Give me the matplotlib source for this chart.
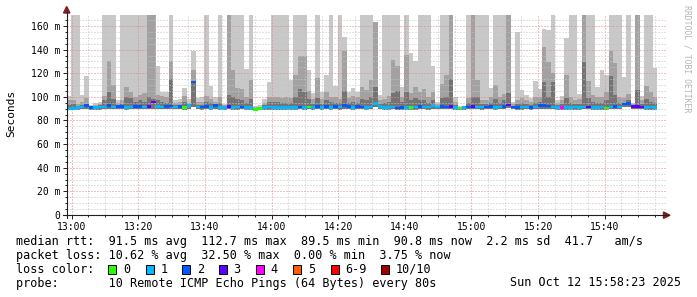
import numpy as np
import matplotlib
matplotlib.use("Agg")
import matplotlib.pyplot as plt
from matplotlib.lines import Line2D
from matplotlib.patches import Polygon, Rectangle

# ---------------- data ----------------
step_min = 80 / 60.0          # 80 s between samples
start_min = -1.5              # first sample, minutes relative to 13:00

top = [101, 175, 175, 101.7, 117.7, 93.5, 95, 96, 175, 175, 175, 97, 175, 175, 175, 175, 175, 175, 175, 175,
       126, 104.5, 104, 175, 97, 98, 107.5, 98, 139, 99, 99.5, 175, 109, 99.8, 175, 94, 175, 175, 175, 175,
       123.5, 175, 92, 93, 98, 113, 175, 175, 175, 175, 114.3, 175, 175, 175, 123, 103, 175, 104.5, 118.6, 175,
       109.2, 175, 151, 104.5, 107.3, 104.5, 175, 175, 175, 163, 101.7, 175, 175, 175, 175, 108.7, 175, 137.4, 130.3, 175,
       175, 175, 126, 95.3, 175, 175, 175, 99.8, 92.5, 91, 175, 175, 175, 175, 175, 107.3, 175, 175, 175, 175,
       96, 155, 106, 101.7, 99, 113.8, 106.5, 157.5, 156.6, 175, 97.5, 100.9, 150, 175, 175, 102.6, 175, 175, 175, 108.2,
       122.8, 118.6, 175, 175, 175, 116.6, 175, 95, 175, 101, 175, 175, 124.5]

mid = [97, 97.5, 94, 96, 99, 92.5, 93, 94, 101, 130.3, 110, 95, 97.5, 108, 104, 100, 102, 103, 175, 175,
       102, 101, 100, 130.3, 95, 96, 101, 95, 122.8, 96, 96, 101, 98, 96, 100, 93, 175, 122.8, 107.3, 106.5,
       100, 114.3, 91, 91.5, 95, 100, 100, 100.3, 99, 99.8, 99, 118.6, 134.6, 134.6, 105, 98, 115.8, 98, 104, 100,
       100, 98, 139, 99, 101, 100, 108.7, 105.9, 114.3, 163, 97, 98, 101, 131.2, 126, 100, 135.4, 103, 108.2, 104.5,
       106.5, 99.8, 104, 94, 111, 118.6, 175, 96, 91.5, 90.5, 98.9, 175, 114.3, 97.5, 97.5, 100, 110, 99.8, 102.6, 175,
       94, 97.5, 99, 97, 96, 99.8, 100, 142, 129.8, 120, 95, 97, 118.6, 99.8, 97.5, 98, 175, 113.8, 101.7, 100,
       99.8, 104, 139, 129, 99.8, 99, 102.6, 94, 175, 97, 109.2, 103.7, 99.8]

inner = [93, 94, 92, 93, 94, 92, 92, 93, 97, 104.5, 98, 93, 94, 100, 99, 96, 97, 96, 100, 98,
         97, 96, 95, 115, 93, 93, 96, 93, 113, 93, 93, 96, 95, 93, 95, 92, 102, 100, 98, 97,
         95, 98, 90, 90.5, 93, 96, 96, 96, 95, 95, 95, 100, 107, 104, 98, 94, 99, 94, 97, 96,
         95, 95, 105, 95, 96, 95, 98, 97, 100, 108.7, 94, 95, 96, 103, 105, 96, 104, 97, 99, 97,
         97, 95, 97, 92.5, 99, 100, 115.3, 93, 91, 90, 95, 100, 100, 94, 94, 95, 98, 95, 97, 103,
         92.5, 94, 95, 94, 93, 95, 96, 113, 100, 113, 93, 94, 99, 95, 94, 94, 129.8, 99, 96, 95,
         95, 97, 118, 102, 95, 95, 97, 92.5, 105.9, 94, 98, 96, 95]

low = [88.8, 88.5, 89.0, 89.5, 90.0, 89.2, 89.0, 89.3, 89.5, 89.8, 89.5, 89.6, 89.8, 89.2, 89.5, 89.6, 89.8, 89.5, 89.8, 90.0,
       89.8, 89.5, 89.8, 90.0, 89.5, 89.8, 89.0, 90.0, 91.0, 89.5, 89.3, 89.8, 89.0, 90.0, 89.0, 89.0, 89.6, 89.0, 89.3, 89.5,
       89.0, 89.0, 88.2, 88.6, 89.0, 89.3, 89.0, 88.8, 89.0, 88.8, 89.0, 89.2, 89.5, 89.0, 89.5, 89.0, 89.6, 89.2, 89.8, 89.0,
       89.8, 89.3, 90.0, 89.8, 89.0, 89.8, 89.5, 89.0, 89.5, 91.0, 89.8, 89.0, 89.0, 89.5, 88.5, 88.8, 89.2, 88.8, 89.3, 89.8,
       89.5, 89.3, 90.0, 89.5, 89.6, 89.5, 89.8, 89.0, 88.8, 88.9, 89.5, 89.8, 89.5, 89.3, 89.5, 89.6, 89.2, 89.5, 89.8, 90.5,
       89.5, 89.0, 89.3, 89.5, 89.0, 89.5, 90.0, 90.0, 90.0, 89.5, 89.0, 89.0, 89.2, 89.0, 89.3, 89.0, 89.5, 89.5, 89.2, 89.0,
       89.3, 88.8, 89.5, 89.8, 89.5, 91.0, 91.5, 89.8, 89.8, 89.5, 89.0, 89.3, 88.9]

median = [90.5, 90.3, 90.8, 91.5, 92.5, 91.2, 91.0, 91.3, 91.5, 92.5, 91.5, 91.8, 92.0, 91.2, 91.5, 91.8, 92.0, 91.5, 92.0, 95.5,
          92.0, 91.5, 92.0, 92.2, 91.5, 92.0, 91.0, 92.5, 112.7, 91.5, 91.3, 92.0, 91.0, 92.5, 91.0, 91.0, 91.8, 91.0, 91.3, 91.5,
          91.0, 91.0, 89.5, 90.2, 91.0, 91.3, 91.0, 90.8, 91.0, 90.8, 91.0, 91.2, 91.5, 91.0, 91.5, 91.0, 91.8, 91.2, 92.0, 91.0,
          92.0, 91.3, 92.5, 92.0, 91.0, 92.0, 91.5, 91.0, 91.5, 94.5, 92.0, 91.0, 91.0, 91.5, 90.5, 90.8, 91.2, 90.8, 91.3, 92.0,
          91.5, 91.3, 92.5, 91.5, 91.8, 91.5, 92.0, 91.0, 90.5, 90.8, 91.5, 92.0, 91.5, 91.3, 91.5, 91.8, 91.2, 91.5, 92.0, 93.0,
          91.5, 91.0, 91.3, 91.5, 91.0, 91.5, 92.5, 92.5, 92.3, 91.5, 91.0, 91.0, 91.2, 91.0, 91.3, 91.0, 91.5, 91.5, 91.2, 91.0,
          91.3, 90.5, 91.5, 92.0, 91.5, 94.0, 94.5, 92.0, 92.0, 91.5, 91.0, 91.3, 90.8]

loss = [1, 1, 1, 1, 2, 2, 1, 1, 1, 2, 1, 2, 2, 1, 1, 2, 2, 1, 3, 3,
        1, 1, 2, 2, 1, 2, 0, 1, 2, 1, 2, 2, 1, 2, 1, 1, 3, 1, 1, 2,
        1, 1, 0, 0, 1, 1, 1, 1, 1, 1, 1, 1, 2, 1, 0, 1, 2, 1, 2, 1,
        2, 1, 2, 2, 1, 2, 2, 1, 1, 1, 1, 1, 1, 1, 2, 2, 1, 0, 1, 2,
        1, 1, 1, 1, 2, 2, 3, 1, 0, 1, 2, 3, 1, 1, 2, 2, 1, 1, 2, 3,
        2, 2, 1, 1, 2, 1, 2, 2, 2, 1, 1, 4, 1, 1, 1, 1, 1, 3, 1, 1,
        1, 0, 1, 2, 1, 2, 2, 3, 3, 3, 1, 1, 1]

loss_labels = ["0", "1", "2", "3", "4", "5", "6-9", "10/10"]
loss_colors = ["#26ff00", "#00b8ff", "#0059ff", "#5e00ff", "#ff00ff", "#ff5e00", "#ff0000", "#a10000"]

x_tick_labels = ["13:00", "13:20", "13:40", "14:00", "14:20", "14:40", "15:00", "15:20", "15:40"]
y_tick_labels = ["0", "20 m", "40 m", "60 m", "80 m", "100 m", "120 m", "140 m", "160 m"]

line_rtt = "median rtt:  91.5 ms avg  112.7 ms max  89.5 ms min  90.8 ms now  2.2 ms sd  41.7   am/s"
line_loss = "packet loss: 10.62 % avg  32.50 % max  0.00 % min  3.75 % now"
line_probe = "probe:       10 Remote ICMP Echo Pings (64 Bytes) every 80s"
stamp = "Sun Oct 12 15:58:23 2025"

# ---------------- figure ----------------
W, H = 697, 297
fig = plt.figure(figsize=(W / 100, H / 100), dpi=100)
fig.patch.set_facecolor("white")
MONO = "DejaVu Sans Mono"


def fx(x):
    return x / W


def fy(y):
    return 1 - y / H


ax_l, ax_r, ax_t, ax_b = 66.7, 666.0, 15.0, 215.0
ax = fig.add_axes([fx(ax_l), fy(ax_b), (ax_r - ax_l) / W, (ax_b - ax_t) / H])
ax.set_facecolor("white")

n = len(median)
xs = start_min + step_min * np.arange(n)
low_a = np.array(low)
ax.bar(xs, np.array(top) - low_a, bottom=low_a, width=step_min, align="edge", color="#c8c8c8", linewidth=0, zorder=1)
ax.bar(xs, np.array(mid) - low_a, bottom=low_a, width=step_min, align="edge", color="#a2a2a2", linewidth=0, zorder=1.1)
ax.bar(xs, np.array(inner) - low_a, bottom=low_a, width=step_min, align="edge", color="#747474", linewidth=0, zorder=1.2)


def loss_color(k):
    if k >= 10:
        return loss_colors[7]
    if k >= 6:
        return loss_colors[6]
    return loss_colors[k]


med_a = np.array(median)
ax.bar(xs, 2.2, bottom=med_a - 1.1, width=step_min, align="edge",
       color=[loss_color(k) for k in loss], linewidth=0, zorder=3)

ax.set_xlim(-1.5, 178.4)
ax.set_ylim(0, 169.3)

ax.set_xticks(np.arange(0, 161, 20))
ax.set_xticklabels(x_tick_labels, fontfamily=MONO, fontsize=7)
ax.set_xticks(np.arange(0, 178, 5), minor=True)
ax.set_yticks(np.arange(0, 161, 20))
ax.set_yticklabels(y_tick_labels, fontfamily=MONO, fontsize=7)
ax.set_yticks(np.arange(0, 169, 5), minor=True)

ax.grid(which="minor", color="#c4c4c4", linestyle=(0, (1, 2)), linewidth=0.72, zorder=2)
ax.grid(which="major", color="#e08888", linestyle=(0, (1, 2)), linewidth=0.72, zorder=2.1)
ax.set_axisbelow(False)

for s in ax.spines.values():
    s.set_visible(False)
ax.tick_params(axis="both", which="major", length=3, width=0.7, color="#1f1f1f", pad=1.5)
ax.tick_params(axis="both", which="minor", length=1.5, width=0.7, color="#1f1f1f")
ax.tick_params(axis="x", pad=2)

# axis lines and arrows (rrdtool style)
AXC = "#1f1f1f"
ARC = "#7f1f1f"
fig.add_artist(Line2D([fx(63), fx(668)], [fy(215.2), fy(215.2)], color=AXC, linewidth=0.8))
fig.add_artist(Line2D([fx(66.7), fx(66.7)], [fy(218), fy(12)], color=AXC, linewidth=0.8))
fig.add_artist(Polygon([[fx(663.5), fy(212)], [fx(663.5), fy(218.4)], [fx(670), fy(215.2)]],
                       closed=True, color=ARC, transform=fig.transFigure))
fig.add_artist(Polygon([[fx(63.5), fy(13)], [fx(69.9), fy(13)], [fx(66.7), fy(6.5)]],
                       closed=True, color=ARC, transform=fig.transFigure))

# labels
fig.text(fx(11), fy(113), "Seconds", rotation=90, ha="center", va="center", fontfamily=MONO, fontsize=8)
fig.text(fx(687), fy(5), "RRDTOOL / TOBI OETIKER", rotation=270, ha="center", va="top",
         fontfamily=MONO, fontsize=5.9, color="#b4b4b4")

# legend
FS = 8.5
fig.text(fx(16), fy(241.5), line_rtt, ha="left", va="center", fontfamily=MONO, fontsize=FS)
fig.text(fx(16), fy(255.5), line_loss, ha="left", va="center", fontfamily=MONO, fontsize=FS)
fig.text(fx(16), fy(269.3), "loss color:", ha="left", va="center", fontfamily=MONO, fontsize=FS)
box_x = [108.3, 145.7, 182.3, 219.0, 255.7, 293.3, 331.0, 381.0]
for bx, lab, col in zip(box_x, loss_labels, loss_colors):
    fig.add_artist(Rectangle((fx(bx), fy(274)), 8 / W, 9 / H, facecolor=col, edgecolor="black",
                             linewidth=0.7, transform=fig.transFigure))
    fig.text(fx(bx + 14.5), fy(269.3), lab, ha="left", va="center", fontfamily=MONO, fontsize=FS)
fig.text(fx(16), fy(283), line_probe, ha="left", va="center", fontfamily=MONO, fontsize=FS)
fig.text(fx(681), fy(283), stamp, ha="right", va="center", fontfamily=MONO, fontsize=FS)

fig.savefig("out.png", dpi=100, facecolor="white")
